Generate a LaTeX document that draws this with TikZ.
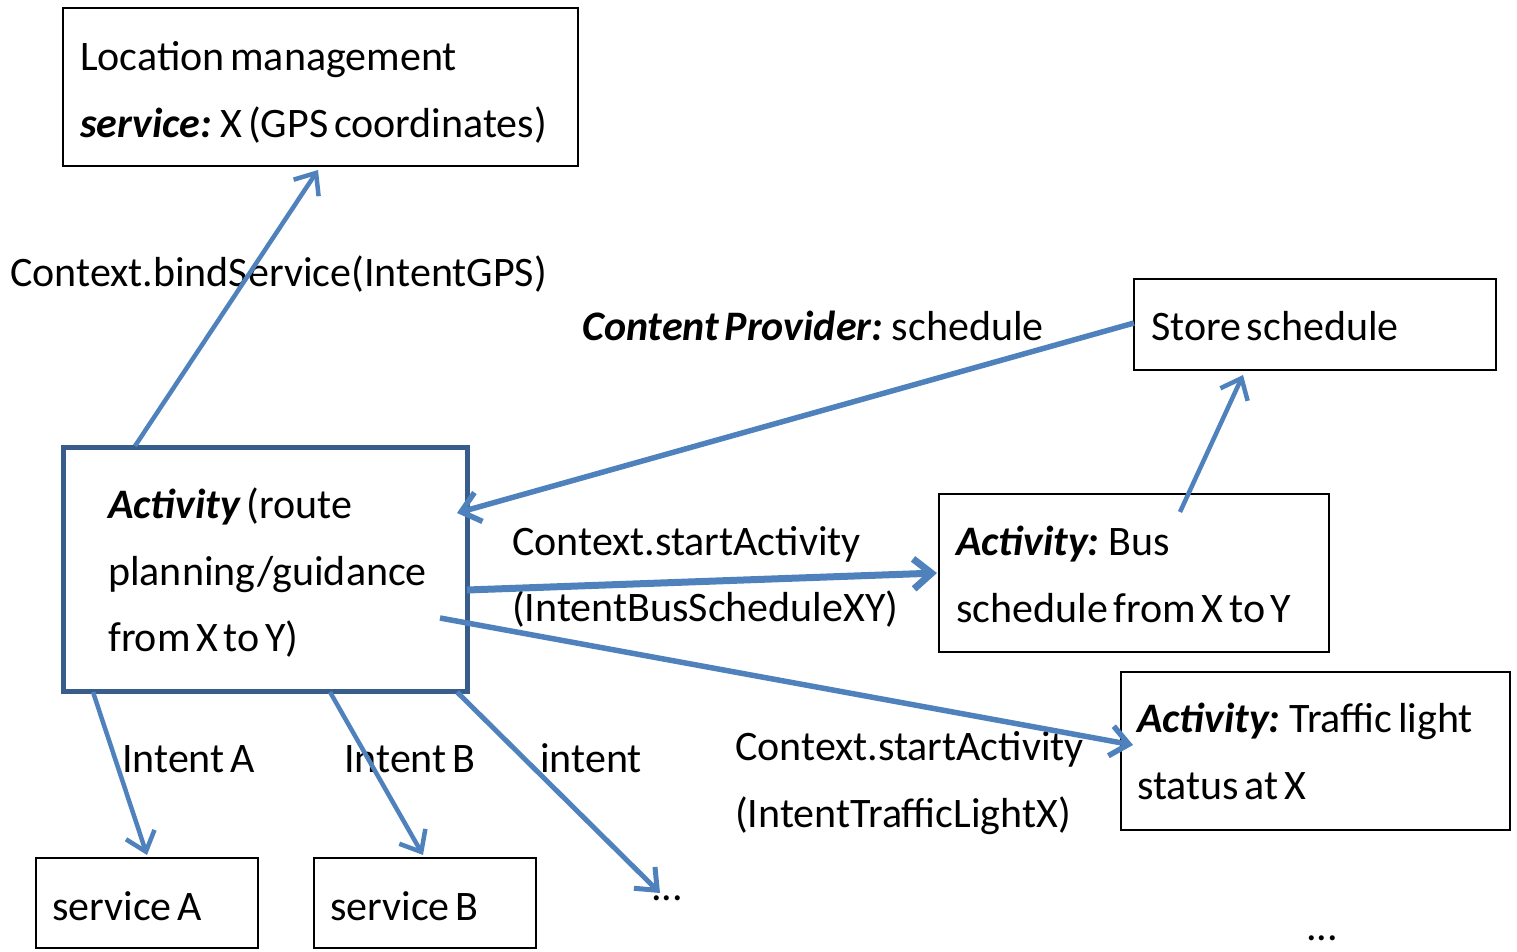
\documentclass[tikz,border=0pt]{standalone}
\usepackage{fontspec}
\setmainfont{Carlito}[WordSpace=0.6]
\usetikzlibrary{arrows.meta}
\definecolor{arrowblue}{HTML}{4F81BD}
\definecolor{boxblue}{HTML}{385D8A}
\tikzset{
  box/.style={draw=black, line width=1.8pt, inner sep=0pt},
  mainbox/.style={draw=boxblue, line width=5pt, inner sep=0pt},
  txt/.style={inner sep=0pt, anchor=base west, font=\fontsize{42}{66}\selectfont},
  conn/.style={draw=arrowblue, line width=5.5pt, -{Straight Barb[length=18pt,width=30pt]}},
}
\begin{document}
\begin{tikzpicture}[x=1pt,y=-1pt]
\useasboundingbox (0,0) rectangle (1517,951);
% boxes
\node[box, minimum width=515, minimum height=158] (loc) at (320.5,87) {};
\node[box, minimum width=362, minimum height=91] (store) at (1315,324.5) {};
\node[mainbox, minimum width=404, minimum height=244] (act) at (265,569) {};
\node[box, minimum width=390, minimum height=158] (bus) at (1134,573) {};
\node[box, minimum width=389, minimum height=158] (traffic) at (1315.5,751) {};
\node[box, minimum width=222, minimum height=90] (svcA) at (147,903) {};
\node[box, minimum width=222, minimum height=90] (svcB) at (425,903) {};
% box texts
\node[txt] (loc1) at (80,70) {Location management};
\node[txt] (loc2) at (80,137) {\textbf{\textit{service:}} X (GPS coordinates)};
\node[txt] (store1) at (1151,340) {Store schedule};
\node[txt] (act1) at (108,518) {\textbf{\textit{Activity}} (route};
\node[txt] (act2) at (108,585) {planning/guidance};
\node[txt] (act3) at (108,651) {from X to Y)};
\node[txt] (bus1) at (956,555) {\textbf{\textit{Activity:}} Bus};
\node[txt] (bus2) at (956,622) {schedule from X to Y};
\node[txt] (tr1) at (1137,732) {\textbf{\textit{Activity:}} Traffic light};
\node[txt] (tr2) at (1137,799) {status at X};
\node[txt] (sA) at (52,920) {service A};
\node[txt] (sB) at (330,920) {service B};
\node[txt] (dots1) at (651,900) {...};
\node[txt] (dots2) at (1306,940) {...};
% labels
\node[txt] (lbind) at (10,286) {Context.bindService(IntentGPS)};
\node[txt] (lcp) at (582,340) {\textbf{\textit{Content Provider:}} schedule};
\node[txt] (lsa1) at (512,555) {Context.startActivity};
\node[txt] (lsa2) at (512,621) {(IntentBusScheduleXY)};
\node[txt] (ltl1) at (735,760) {Context.startActivity};
\node[txt] (ltl2) at (735,827) {(IntentTrafficLightX)};
\node[txt] (liA) at (122,772) {Intent A};
\node[txt] (liB) at (344,772) {Intent B};
\node[txt] (lint) at (540,772) {intent};
% anchor coordinates on boxes
\coordinate (a1) at (135,446);
\coordinate (l1) at (318,170);
\coordinate (s1) at (1134,323);
\coordinate (a2) at (457,513);
\coordinate (a3) at (467,590);
\coordinate (b1) at (937,573);
\coordinate (a4) at (440,618);
\coordinate (t1) at (1133,745);
\coordinate (b2) at (1180,512);
\coordinate (s2) at (1243,375);
\coordinate (a5) at (93,692);
\coordinate (sa) at (147,855);
\coordinate (a6) at (330,692);
\coordinate (sb) at (423,855);
\coordinate (a7) at (457,692);
\coordinate (d1) at (660,893);
% connectors
\draw[conn, line width=4.5pt] (a1) -- (l1);
\draw[conn] (s1) -- (a2);
\draw[conn, line width=7pt] (a3) -- (b1);
\draw[conn] (a4) -- (t1);
\draw[conn, line width=4.5pt] (b2) -- (s2);
\draw[conn, line width=4.5pt] (a5) -- (sa);
\draw[conn, line width=4.5pt] (a6) -- (sb);
\draw[conn, line width=5pt] (a7) -- (d1);
\end{tikzpicture}
\end{document}
